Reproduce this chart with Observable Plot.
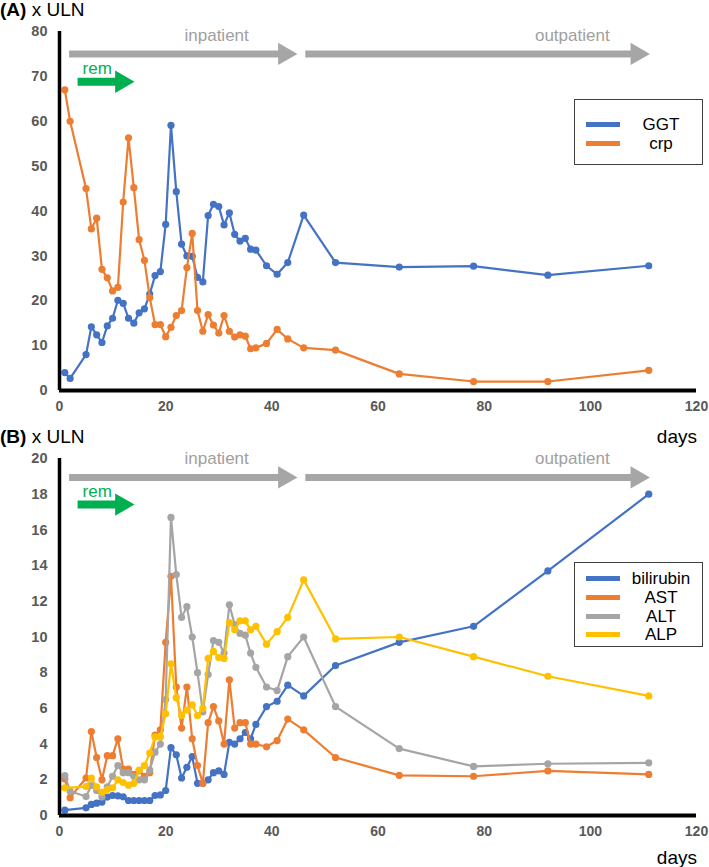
<!DOCTYPE html>
<html>
<head>
<meta charset="utf-8">
<script src="https://cdn.jsdelivr.net/npm/d3@7"></script>
<script src="https://cdn.jsdelivr.net/npm/@observablehq/plot@0.6"></script>
<style>
  body { margin: 0; background: #fff; font-family: "Liberation Sans", Arial, sans-serif; }
  #wrap { position: relative; width: 709px; height: 867px; overflow: hidden; }
  #wrap svg { position: absolute; left: 0; }
  .ttl { position: absolute; font-size: 19px; color: #000; white-space: nowrap; line-height: 1; }
  .legend { position: absolute; border: 1.5px solid #404040; background: #fff; box-sizing: border-box; }
  .lg-line { position: absolute; height: 5px; }
  .lg-text { position: absolute; font-size: 17px; color: #000; line-height: 1; transform: translate(-50%, -50%); white-space: nowrap; }
</style>
</head>
<body>
<div id="wrap"></div>
<script>
// ---- data ----
const days = [1,2,5,6,7,8,9,10,11,12,13,14,15,16,17,18,19,20,21,22,23,24,25,26,27,28,29,30,31,32,33,34,35,36,37,39,41,43,46,52,64,78,92,111];

// Panel A (x ULN)
const ggt = [4.0,2.7,8.0,14.2,12.4,10.7,14.4,16.1,20.1,19.4,16.1,15.0,17.3,18.2,21.5,25.6,26.5,37.0,
             59.1,44.3,32.6,30.0,29.9,25.2,24.2,39.0,41.5,41.0,36.9,39.6,34.8,33.3,33.9,31.5,31.3,
             27.8,25.9,28.5,39.1,28.5,27.5,27.7,25.7,27.8];
const crp = [67,60,45,36,38.4,27,25.1,22.2,23,42,56.3,45.2,33.6,29,20.7,14.7,14.7,12,
             14.1,16.7,17.8,27.4,35,17.8,13.2,16.9,14.6,12.8,16.7,13.2,11.9,12.4,12.1,9.3,9.5,
             10.5,13.6,11.5,9.5,9.0,3.7,2.0,2.0,4.5];

// Panel B (x ULN)
const bilirubin = [0.3,null,0.43,0.62,0.69,0.75,1.03,1.12,1.1,1.05,0.84,0.84,0.84,0.84,0.84,1.12,1.15,1.4,
             3.8,3.4,2.1,2.7,3.3,1.8,1.8,2.0,2.4,2.5,2.3,4.1,4.0,4.3,4.65,4.3,5.1,
             6.1,6.4,7.3,6.7,8.4,9.7,10.6,13.7,18.0];
const ast = [2.05,1.0,2.1,4.7,3.25,2.0,3.35,3.35,4.3,2.6,2.6,2.3,2.5,2.2,2.4,4.5,4.8,9.7,
             13.4,7.2,4.9,7.2,4.3,2.8,1.8,5.2,6.1,5.3,4.0,7.6,4.9,5.2,5.2,4.0,4.0,
             3.85,4.2,5.4,4.8,3.25,2.25,2.2,2.5,2.3];
const alt = [2.24,1.36,1.06,1.68,1.4,1.03,1.6,2.2,2.8,2.4,2.4,2.2,2.0,2.0,2.55,3.55,4.0,6.5,
             16.7,13.5,11.1,11.7,10.0,8.0,5.8,7.9,9.8,9.7,9.1,11.8,10.7,10.2,10.1,9.1,8.3,
             7.2,7.0,8.9,10.0,6.1,3.75,2.75,2.9,2.95];
const alp = [1.55,null,1.62,2.1,1.6,1.3,1.45,1.55,2.0,1.85,1.7,1.8,2.55,2.8,3.5,4.4,4.4,5.7,
             8.5,6.6,5.6,5.9,6.2,5.6,6.0,8.8,9.2,8.85,8.8,10.8,10.4,10.9,10.9,10.4,10.6,
             9.6,10.3,11.1,13.2,9.9,10.0,8.9,7.8,6.7];

const xTicks = [0,20,40,60,80,100,120];
const yTicksA = [0,10,20,30,40,50,60,70,80];
const yTicksB = [0,2,4,6,8,10,12,14,16,18,20];

const seriesA = ["GGT","crp"];
const seriesB = ["bilirubin","AST","ALT","ALP"];

// annotation phases (days)
const phases = [
  {label: "inpatient", start: 1.9, end: 42.4, labelAt: 29.6},
  {label: "outpatient", start: 46.4, end: 108.8, labelAt: 96.6}
];
const remission = [{label: "rem", start: 3.5, end: 11.7, labelAt: 7.1}];

// ---- styling ----
const colors = {GGT: "#4472C4", crp: "#ED7D31", bilirubin: "#4472C4", AST: "#ED7D31", ALT: "#A5A5A5", ALP: "#FFC000"};
const arrowGray = "#a6a6a6";
const green = "#00B050";

function rows(values, name) {
  return days.map((d, i) => ({day: d, value: values[i], series: name})).filter(r => r.value != null);
}

function panel({height, marginTop, marginBottom, yDomain, yTicks, series, lvl}) {
  const seriesMarks = series.flatMap(s => [
    Plot.line(s.data, {x: "day", y: "value", stroke: colors[s.name], strokeWidth: 2.2}),
    Plot.dot(s.data, {x: "day", y: "value", fill: colors[s.name], r: 3.6})
  ]);
  return Plot.plot({
    width: 709, height, marginTop, marginBottom, marginLeft: 59, marginRight: 13,
    x: {domain: [0, 120]},
    y: {domain: yDomain},
    style: {fontFamily: "'Liberation Sans', Arial, sans-serif", background: "transparent", overflow: "visible"},
    marks: [
      Plot.axisX({ticks: xTicks, tickSize: 0, tickPadding: 11, fontSize: 14, fontWeight: "bold", fill: "#595959", label: null}),
      Plot.axisY({ticks: yTicks, tickSize: 0, tickPadding: 12, fontSize: 14.5, fontWeight: "bold", fill: "#595959", label: null}),
      // phase arrows
      Plot.ruleY(phases, {x1: "start", x2: "end", y: () => lvl.bar, stroke: arrowGray, strokeWidth: 7}),
      Plot.dot(phases, {x: "end", y: () => lvl.bar, symbol: "triangle", rotate: 90, r: 8.3, fill: arrowGray, stroke: null}),
      Plot.text(phases, {x: "labelAt", y: () => lvl.text, text: "label", fill: "#a0a0a0", fontSize: 17}),
      // remission arrow
      Plot.ruleY(remission, {x1: "start", x2: "end", y: () => lvl.rem, stroke: green, strokeWidth: 8}),
      Plot.dot(remission, {x: "end", y: () => lvl.rem, symbol: "triangle", rotate: 90, r: 8.3, fill: green, stroke: null}),
      Plot.text(remission, {x: "labelAt", y: () => lvl.remText, text: "label", fill: green, fontSize: 17}),
      ...seriesMarks,
      Plot.ruleX([0], {stroke: "#000", strokeWidth: 3.5}),
      Plot.ruleY([0], {stroke: "#000", strokeWidth: 3.8})
    ]
  });
}

const wrap = document.getElementById("wrap");

const svgA = panel({
  height: 420, marginTop: 31, marginBottom: 30, yDomain: [0, 80], yTicks: yTicksA,
  series: [{name: "GGT", data: rows(ggt, "GGT")}, {name: "crp", data: rows(crp, "crp")}],
  lvl: {bar: 75, text: 79.1, rem: 68.8, remText: 71.8}
});
svgA.style.top = "0px";
wrap.appendChild(svgA);

const svgB = panel({
  height: 437, marginTop: 28, marginBottom: 52, yDomain: [0, 20], yTicks: yTicksB,
  series: [
    {name: "bilirubin", data: rows(bilirubin, "bilirubin")},
    {name: "AST", data: rows(ast, "AST")},
    {name: "ALT", data: rows(alt, "ALT")},
    {name: "ALP", data: rows(alp, "ALP")}
  ],
  lvl: {bar: 18.94, text: 20.0, rem: 17.42, remText: 18.17}
});
svgB.style.top = "430px";
wrap.appendChild(svgB);

// titles and axis names
function addText(html, style) {
  const d = document.createElement("div");
  d.className = "ttl";
  d.innerHTML = html;
  Object.assign(d.style, style);
  wrap.appendChild(d);
}
addText("<b>(A)</b>&nbsp;x ULN", {left: "0px", top: "0px"});
addText("<b>(B)</b>&nbsp;x ULN", {left: "0px", top: "427px"});
addText("days", {right: "12px", top: "427px"});
addText("days", {right: "12px", top: "848px"});

// legends
function legend(names, box, lineYs) {
  const lg = document.createElement("div");
  lg.className = "legend";
  Object.assign(lg.style, {left: box.left + "px", top: box.top + "px", width: box.width + "px", height: box.height + "px"});
  wrap.appendChild(lg);
  names.forEach((n, i) => {
    const ln = document.createElement("div");
    ln.className = "lg-line";
    Object.assign(ln.style, {left: "586px", width: "34px", top: (lineYs[i] - 2.5) + "px", background: colors[n]});
    wrap.appendChild(ln);
    const t = document.createElement("div");
    t.className = "lg-text";
    t.textContent = n;
    Object.assign(t.style, {left: "661px", top: lineYs[i] + "px"});
    wrap.appendChild(t);
  });
}
legend(seriesA, {left: 574, top: 99, width: 129, height: 66}, [124, 143]);
legend(seriesB, {left: 574, top: 562, width: 129, height: 85}, [578, 597, 616, 634]);
</script>
</body>
</html>
